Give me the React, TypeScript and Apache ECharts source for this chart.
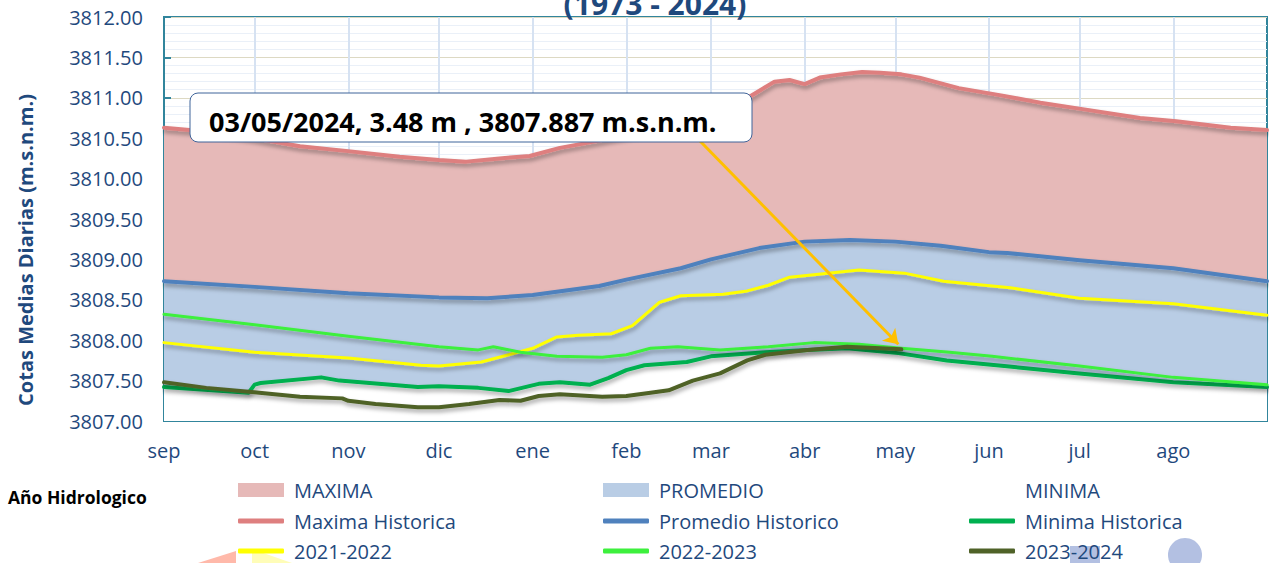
import React, { useEffect, useRef } from "react";
import * as echarts from "echarts";

// Hydrological year: day 0 = 1 September, day 365 = 31 August
const monthStartDays = [0, 30, 61, 91, 122, 153, 181, 212, 242, 273, 303, 334];
const monthLabels = ["sep", "oct", "nov", "dic", "ene", "feb", "mar", "abr", "may", "jun", "jul", "ago"];

const yMin = 3807;
const yMax = 3812;
const yInterval = 0.5;

// [day of hydrological year, level m.s.n.m.]
const maximaHistorica: [number, number][] = [
  [0, 3810.63], [15, 3810.58], [30, 3810.50], [45, 3810.40], [61, 3810.34], [78, 3810.27],
  [91, 3810.23], [100, 3810.21], [111, 3810.25], [121, 3810.28], [131, 3810.38], [144, 3810.47],
  [157, 3810.56], [170, 3810.72], [182, 3810.87], [194, 3811.02], [202, 3811.20], [207, 3811.22],
  [212, 3811.17], [217, 3811.25], [224, 3811.29], [231, 3811.32], [237, 3811.31], [244, 3811.29],
  [250, 3811.25], [263, 3811.12], [277, 3811.03], [290, 3810.94], [304, 3810.86], [323, 3810.75],
  [335, 3810.71], [353, 3810.63], [365, 3810.60],
];

const promedioHistorico: [number, number][] = [
  [0, 3808.73], [30, 3808.66], [61, 3808.58], [91, 3808.53], [107, 3808.52], [122, 3808.56],
  [144, 3808.67], [153, 3808.75], [171, 3808.89], [181, 3809.00], [197, 3809.14], [212, 3809.22],
  [227, 3809.24], [242, 3809.22], [257, 3809.17], [273, 3809.09], [279, 3809.08], [303, 3808.99],
  [334, 3808.89], [365, 3808.73],
];

const minimaHistorica: [number, number][] = [
  [0, 3807.42], [28, 3807.35], [30, 3807.45], [32, 3807.47], [52, 3807.54], [58, 3807.50],
  [84, 3807.42], [91, 3807.43], [104, 3807.41], [114, 3807.37], [124, 3807.46], [131, 3807.48],
  [141, 3807.45], [147, 3807.53], [153, 3807.63], [159, 3807.69], [173, 3807.73], [181, 3807.80],
  [199, 3807.85], [213, 3807.88], [226, 3807.90], [243, 3807.84], [259, 3807.75], [278, 3807.68],
  [302, 3807.59], [334, 3807.48], [365, 3807.42],
];

const year2021_2022: [number, number][] = [
  [0, 3807.97], [30, 3807.85], [61, 3807.78], [85, 3807.69], [91, 3807.68], [105, 3807.73],
  [115, 3807.83], [122, 3807.90], [130, 3808.04], [137, 3808.06], [148, 3808.08], [155, 3808.18],
  [164, 3808.47], [171, 3808.55], [185, 3808.57], [193, 3808.61], [200, 3808.68], [207, 3808.78],
  [215, 3808.81], [230, 3808.87], [245, 3808.83], [258, 3808.73], [280, 3808.65], [303, 3808.52],
  [334, 3808.45], [365, 3808.31],
];

const year2022_2023: [number, number][] = [
  [0, 3808.32], [30, 3808.19], [61, 3808.05], [91, 3807.92], [104, 3807.88], [109, 3807.92],
  [118, 3807.85], [130, 3807.80], [145, 3807.79], [153, 3807.82], [161, 3807.90], [170, 3807.92],
  [184, 3807.88], [200, 3807.92], [215, 3807.97], [230, 3807.95], [244, 3807.90], [260, 3807.85],
  [274, 3807.80], [303, 3807.68], [334, 3807.54], [365, 3807.45],
];

const year2023_2024: [number, number][] = [
  [0, 3807.48], [14, 3807.41], [29, 3807.36], [45, 3807.30], [59, 3807.28], [61, 3807.25],
  [70, 3807.21], [84, 3807.17], [91, 3807.17], [101, 3807.21], [111, 3807.26], [118, 3807.25],
  [124, 3807.31], [131, 3807.33], [145, 3807.30], [153, 3807.31], [161, 3807.35], [167, 3807.38],
  [175, 3807.50], [184, 3807.59], [193, 3807.75], [199, 3807.82], [213, 3807.88], [226, 3807.92],
  [237, 3807.90], [244, 3807.887],
];

const annotationText = "03/05/2024, 3.48 m , 3807.887 m.s.n.m.";
const annotationTarget: [number, number] = [243, 3807.95];

// legend grid: [name, column, row, isArea]
const legendItems: [string, number, number, boolean][] = [
  ["MAXIMA", 0, 0, true], ["PROMEDIO", 1, 0, true], ["MINIMA", 2, 0, true],
  ["Maxima Historica", 0, 1, false], ["Promedio Historico", 1, 1, false], ["Minima Historica", 2, 1, false],
  ["2021-2022", 0, 2, false], ["2022-2023", 1, 2, false], ["2023-2024", 2, 2, false],
];
const legendColumnsLeft = [238, 603, 969];
const legendRowsCenter = [490, 521, 551];

const FONT = "'Open Sans', sans-serif";
const BLUE_TEXT = "#1F497D";
const AXIS = "#31859C";

const shadow = {
  shadowColor: "rgba(0,0,0,0.35)",
  shadowBlur: 4,
  shadowOffsetX: 1,
  shadowOffsetY: 3,
};

function areaSeries(name: string, data: [number, number][], color: string) {
  return {
    name,
    type: "line",
    data,
    color,
    symbol: "none",
    silent: true,
    lineStyle: { width: 0, color },
    areaStyle: { color, opacity: 1, origin: "start" },
    itemStyle: { color },
  };
}

function lineSeries(name: string, data: [number, number][], color: string, width: number) {
  return {
    name,
    type: "line",
    data,
    color,
    symbol: "none",
    silent: true,
    lineStyle: { width, color, cap: "round", join: "round", ...shadow },
    itemStyle: { color },
  };
}

export default function App() {
  const ref = useRef<HTMLDivElement>(null);

  useEffect(() => {
    if (!ref.current) return;
    const chart = echarts.init(ref.current, undefined, { renderer: "svg" });

    const olive = lineSeries("2023-2024", year2023_2024, "#4F6228", 4) as any;
    olive.markLine = {
      silent: true,
      symbol: ["none", "arrow"],
      symbolSize: 14,
      label: { show: false },
      lineStyle: { color: "#FFC000", width: 3, type: "solid", shadowBlur: 0 },
      data: [[{ x: 700, y: 141 }, { coord: annotationTarget }]],
    };

    const legends = legendItems.map(([name, col, row, isArea]) => ({
      orient: "horizontal",
      left: legendColumnsLeft[col],
      top: legendRowsCenter[row] - 10,
      padding: 0,
      itemWidth: 46,
      itemHeight: isArea ? 14 : 5,
      icon: isArea ? "rect" : "roundRect",
      selectedMode: false,
      data: [name],
      textStyle: { color: BLUE_TEXT, fontSize: 20, fontFamily: FONT, padding: [0, 0, 0, 5] },
    }));

    chart.setOption({
      animation: false,
      backgroundColor: "#FFFFFF",
      grid: {
        left: 164,
        right: 8,
        top: 17,
        bottom: 142,
        show: true,
        borderColor: AXIS,
        borderWidth: 2,
        backgroundColor: "transparent",
      },
      xAxis: {
        type: "value",
        min: 0,
        max: 365,
        axisLine: { show: true, lineStyle: { color: AXIS, width: 2 } },
        axisTick: {
          show: true,
          inside: true,
          length: 7,
          customValues: monthStartDays,
          lineStyle: { color: AXIS, width: 2 },
        },
        axisLabel: {
          customValues: monthStartDays,
          formatter: (v: number) => monthLabels[monthStartDays.indexOf(Math.round(v))] ?? "",
          color: BLUE_TEXT,
          fontSize: 20,
          fontFamily: FONT,
          margin: 19,
        },
        splitLine: { show: true, lineStyle: { color: "#D6E2F2", width: 2 } },
      },
      yAxis: {
        type: "value",
        min: yMin,
        max: yMax,
        interval: yInterval,
        axisLine: { show: true, lineStyle: { color: AXIS, width: 2 } },
        axisTick: { show: true, inside: true, length: 7, lineStyle: { color: AXIS, width: 2 } },
        axisLabel: {
          formatter: (v: number) => v.toFixed(2),
          color: BLUE_TEXT,
          fontSize: 20,
          fontFamily: FONT,
          margin: 21,
        },
        splitLine: { show: true, lineStyle: { color: "#DDD9C3", width: 1 } },
        minorTick: { show: false, splitNumber: 5 },
        minorSplitLine: { show: true, lineStyle: { color: "#EAF0F8", width: 1 } },
      },
      legend: legends,
      series: [
        areaSeries("MAXIMA", maximaHistorica, "#E6B9B8"),
        areaSeries("PROMEDIO", promedioHistorico, "#B9CDE5"),
        areaSeries("MINIMA", minimaHistorica, "#FFFFFF"),
        lineSeries("Maxima Historica", maximaHistorica, "#DE7F7F", 4),
        lineSeries("Promedio Historico", promedioHistorico, "#4F81BD", 4),
        lineSeries("Minima Historica", minimaHistorica, "#00B050", 4),
        lineSeries("2021-2022", year2021_2022, "#FFFF00", 3),
        lineSeries("2022-2023", year2022_2023, "#3DF03D", 3),
        olive,
      ],
      graphic: [
        {
          type: "text",
          x: 655,
          y: 3,
          z: 100,
          style: {
            text: "(1973 - 2024)",
            font: `bold 30px ${FONT}`,
            fill: BLUE_TEXT,
            align: "center",
            verticalAlign: "middle",
          },
        },
        {
          type: "text",
          x: 25,
          y: 250,
          rotation: Math.PI / 2,
          z: 100,
          style: {
            text: "Cotas Medias Diarias (m.s.n.m.)",
            font: `bold 20px ${FONT}`,
            fill: BLUE_TEXT,
            align: "center",
            verticalAlign: "middle",
          },
        },
        {
          type: "rect",
          z: 100,
          shape: { x: 190, y: 93, width: 562, height: 49, r: 8 },
          style: { fill: "#FFFFFF", stroke: "#3F649A", lineWidth: 1 },
        },
        {
          type: "text",
          x: 209,
          y: 121,
          z: 101,
          style: {
            text: annotationText,
            font: `bold 27px ${FONT}`,
            fill: "#000000",
            align: "left",
            verticalAlign: "middle",
          },
        },
        {
          type: "text",
          x: 8,
          y: 497,
          z: 100,
          style: {
            text: "Año Hidrologico",
            font: `bold 17.5px ${FONT}`,
            fill: "#000000",
            align: "left",
            verticalAlign: "middle",
          },
        },
        {
          type: "polygon",
          z: 0,
          shape: { points: [[198, 563], [236, 551], [236, 563]] },
          style: { fill: "#FFB9AA" },
        },
        {
          type: "polygon",
          z: 0,
          shape: { points: [[252, 549], [252, 563], [292, 563]] },
          style: { fill: "#FFFDB8" },
        },
        {
          type: "rect",
          z: 0,
          shape: { x: 1070, y: 546, width: 30, height: 17 },
          style: { fill: "#B3C0E2" },
        },
        {
          type: "circle",
          z: 0,
          shape: { cx: 1185, cy: 555, r: 17 },
          style: { fill: "#B3C0E2" },
        },
      ],
    });

    return () => chart.dispose();
  }, []);

  return (
    <div
      ref={ref}
      style={{ position: "fixed", left: 0, top: 0, width: 1275, height: 563, background: "#FFFFFF" }}
    />
  );
}
